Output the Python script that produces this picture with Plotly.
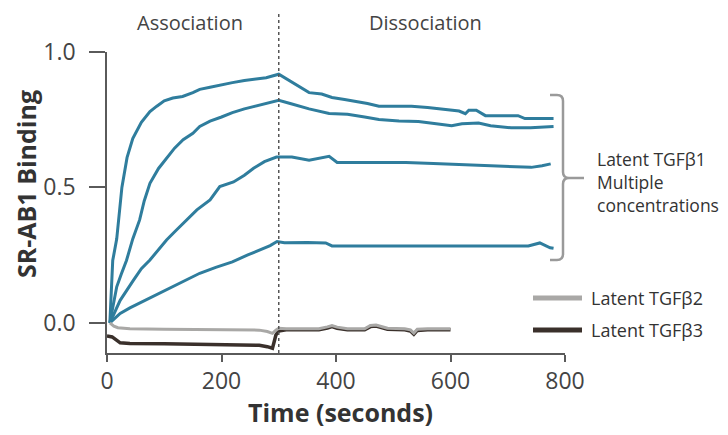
import plotly.graph_objects as go

# ---------------- data ----------------
t1 = [5, 10, 17, 23, 26, 35, 45, 60, 75, 87, 100, 115, 132, 150, 162, 180, 200, 219, 240, 260, 278, 300,
      310, 330, 353, 375, 393, 415, 434, 455, 475, 500, 532, 560, 591, 615, 626, 632, 645, 661, 690, 718, 730, 780]
s1 = [0.0, 0.23, 0.31, 0.45, 0.50, 0.61, 0.68, 0.74, 0.78, 0.80, 0.82, 0.83, 0.836, 0.85, 0.862, 0.87, 0.88, 0.887, 0.895, 0.90, 0.905, 0.918,
      0.905, 0.88, 0.85, 0.845, 0.832, 0.825, 0.818, 0.81, 0.80, 0.80, 0.80, 0.795, 0.788, 0.782, 0.772, 0.785, 0.785, 0.765, 0.765, 0.765, 0.754, 0.754]

t2 = [5, 17, 25, 34, 45, 57, 65, 75, 90, 104, 118, 133, 150, 162, 180, 200, 219, 240, 260, 280, 300,
      320, 353, 388, 420, 450, 475, 510, 544, 575, 602, 620, 649, 670, 706, 740, 780]
s2 = [0.0, 0.133, 0.18, 0.23, 0.31, 0.38, 0.45, 0.515, 0.57, 0.608, 0.645, 0.676, 0.70, 0.725, 0.745, 0.76, 0.776, 0.79, 0.80, 0.81, 0.822,
      0.81, 0.79, 0.773, 0.77, 0.76, 0.751, 0.745, 0.743, 0.735, 0.728, 0.735, 0.738, 0.728, 0.72, 0.72, 0.725]

t3 = [5, 23, 46, 60, 75, 90, 104, 120, 139, 157, 180, 197, 221, 240, 256, 275, 296,
      310, 323, 353, 370, 388, 402, 450, 522, 570, 619, 680, 741, 760, 775]
s3 = [0.0, 0.083, 0.157, 0.20, 0.232, 0.27, 0.306, 0.34, 0.38, 0.417, 0.454, 0.503, 0.52, 0.545, 0.571, 0.595, 0.612,
      0.612, 0.612, 0.60, 0.607, 0.615, 0.592, 0.592, 0.592, 0.588, 0.584, 0.58, 0.574, 0.58, 0.587]

t4 = [5, 23, 40, 57, 80, 104, 130, 162, 190, 219, 245, 266, 285, 297,
      310, 350, 382, 393, 500, 600, 700, 736, 756, 774, 780]
s4 = [0.0, 0.035, 0.055, 0.073, 0.095, 0.12, 0.15, 0.183, 0.205, 0.225, 0.25, 0.27, 0.285, 0.30,
      0.296, 0.297, 0.295, 0.284, 0.284, 0.284, 0.284, 0.284, 0.295, 0.277, 0.275]

t_b2 = [5, 12, 19, 40, 100, 200, 266, 280, 289, 295, 300, 313, 340, 370, 385, 393, 402, 420, 450, 460, 470,
        490, 520, 530, 536, 542, 560, 600]
tgfb2 = [0.0, -0.012, -0.018, -0.022, -0.024, -0.025, -0.027, -0.032, -0.039, -0.027, -0.02, -0.022, -0.022, -0.022,
         -0.015, -0.01, -0.016, -0.022, -0.022, -0.01, -0.008, -0.02, -0.022, -0.026, -0.038, -0.024, -0.022, -0.022]

t_b3 = [0, 9, 23, 40, 100, 200, 266, 280, 289, 292, 295, 300, 313, 340, 370, 385, 393, 402, 420, 450, 460, 470,
        490, 520, 530, 536, 542, 560, 600]
tgfb3 = [-0.049, -0.052, -0.074, -0.076, -0.077, -0.079, -0.083, -0.088, -0.094, -0.07, -0.045, -0.03, -0.026,
         -0.026, -0.026, -0.019, -0.014, -0.02, -0.026, -0.026, -0.014, -0.012, -0.024, -0.026, -0.03, -0.042,
         -0.028, -0.026, -0.026]

x_ticks = [0, 200, 400, 600, 800]
y_ticks = [0.0, 0.5, 1.0]
phase_labels = ["Association", "Dissociation"]
legend_labels = ["Latent TGFβ2", "Latent TGFβ3"]
bracket_label = "Latent TGFβ1<br>Multiple<br>concentrations"

# ---------------- style ----------------
TEAL = "#2f7d9d"
GRAY = "#a9a8a6"
DARK = "#3a302b"
AXIS = "#5a5a5a"
TXT = "#444444"
FONT = "Open Sans"

# page has an 8px body margin: figure is 8px smaller and offset
OFF = 8
# plot area in reference-image pixels
L, R, T, B = 107, 565, 52, 353
W, H = 728 - OFF, 435 - OFF


def px(xp):
    return (xp - L) / (R - L)


def py(yp):
    return (B - yp) / (B - T)


fig = go.Figure()

for tt, ss in [(t4, s4), (t3, s3), (t2, s2), (t1, s1)]:
    fig.add_trace(go.Scatter(x=tt, y=ss, mode="lines", line=dict(color=TEAL, width=3),
                             showlegend=False, hoverinfo="skip"))

fig.add_trace(go.Scatter(x=t_b3, y=tgfb3, mode="lines", line=dict(color=DARK, width=3.5),
                         showlegend=False, hoverinfo="skip"))
fig.add_trace(go.Scatter(x=t_b2, y=tgfb2, mode="lines", line=dict(color=GRAY, width=3),
                         showlegend=False, hoverinfo="skip"))

shapes = []
# dotted divider
shapes.append(dict(type="line", xref="x", yref="paper", x0=300, x1=300, y0=0, y1=py(12),
                   line=dict(color="#555555", width=1.5, dash="dot")))
# bracket
r = 6
path = (f"M {px(550)} {py(95)} L {px(563 - r)} {py(95)} Q {px(563)} {py(95)} {px(563)} {py(95 + r)} "
        f"L {px(563)} {py(178 - r)} Q {px(563)} {py(178)} {px(563 + r)} {py(178)} L {px(584)} {py(178)} "
        f"M {px(563 + r)} {py(178)} Q {px(563)} {py(178)} {px(563)} {py(178 + r)} "
        f"L {px(563)} {py(260 - r)} Q {px(563)} {py(260)} {px(563 - r)} {py(260)} L {px(550)} {py(260)}")
shapes.append(dict(type="path", xref="paper", yref="paper", path=path,
                   line=dict(color="#9a9a9a", width=2.5)))
# legend swatches
shapes.append(dict(type="line", xref="paper", yref="paper", x0=px(533), x1=px(582), y0=py(298), y1=py(298),
                   line=dict(color=GRAY, width=5)))
shapes.append(dict(type="line", xref="paper", yref="paper", x0=px(533), x1=px(582), y0=py(330), y1=py(330),
                   line=dict(color=DARK, width=5)))

annotations = [
    dict(text=phase_labels[0], x=px(190), y=py(22), xref="paper", yref="paper", showarrow=False,
         font=dict(size=20, color=TXT, family=FONT), xanchor="center", yanchor="middle"),
    dict(text=phase_labels[1], x=px(425), y=py(22), xref="paper", yref="paper", showarrow=False,
         font=dict(size=20, color=TXT, family=FONT), xanchor="center", yanchor="middle"),
    dict(text=bracket_label, x=px(595), y=py(182), xref="paper", yref="paper", showarrow=False,
         font=dict(size=17.5, color="#333333", family=FONT), xanchor="left", yanchor="middle", align="left"),
    dict(text=legend_labels[0], x=px(589), y=py(298), xref="paper", yref="paper", showarrow=False,
         font=dict(size=18, color="#333333", family=FONT), xanchor="left", yanchor="middle"),
    dict(text=legend_labels[1], x=px(589), y=py(330), xref="paper", yref="paper", showarrow=False,
         font=dict(size=18, color="#333333", family=FONT), xanchor="left", yanchor="middle"),
    dict(text="<b>Time (seconds)</b>", x=px(340), y=py(412), xref="paper", yref="paper", showarrow=False,
         font=dict(size=25, color="#333333", family=FONT), xanchor="center", yanchor="middle"),
    dict(text="<b>SR-AB1 Binding</b>", x=px(26), y=py(184), xref="paper", yref="paper", showarrow=False,
         textangle=-90, font=dict(size=25, color="#333333", family=FONT), xanchor="center", yanchor="middle"),
]

fig.update_layout(
    width=W, height=H,
    margin=dict(l=L - OFF, r=W - (R - OFF), t=T - OFF, b=H - (B - OFF), pad=0),
    paper_bgcolor="white", plot_bgcolor="white",
    shapes=shapes, annotations=annotations,
    showlegend=False,
    xaxis=dict(range=[0, 800], tickvals=x_ticks, ticktext=[str(v) for v in x_ticks],
               showline=True, linecolor=AXIS, linewidth=1.5, ticks="outside", ticklen=7,
               tickcolor=AXIS, tickwidth=1.5, showgrid=False, zeroline=False,
               tickfont=dict(size=23, color=TXT, family=FONT)),
    yaxis=dict(range=[-0.1114, 1.0], tickvals=y_ticks, ticktext=[f"{v:.1f}" for v in y_ticks],
               showline=True, linecolor=AXIS, linewidth=1.5, ticks="outside", ticklen=16,
               tickcolor=AXIS, tickwidth=1.5, showgrid=False, zeroline=False, ticklabelstandoff=9,
               tickfont=dict(size=23, color=TXT, family=FONT)),
)

fig.write_html("out.html")
